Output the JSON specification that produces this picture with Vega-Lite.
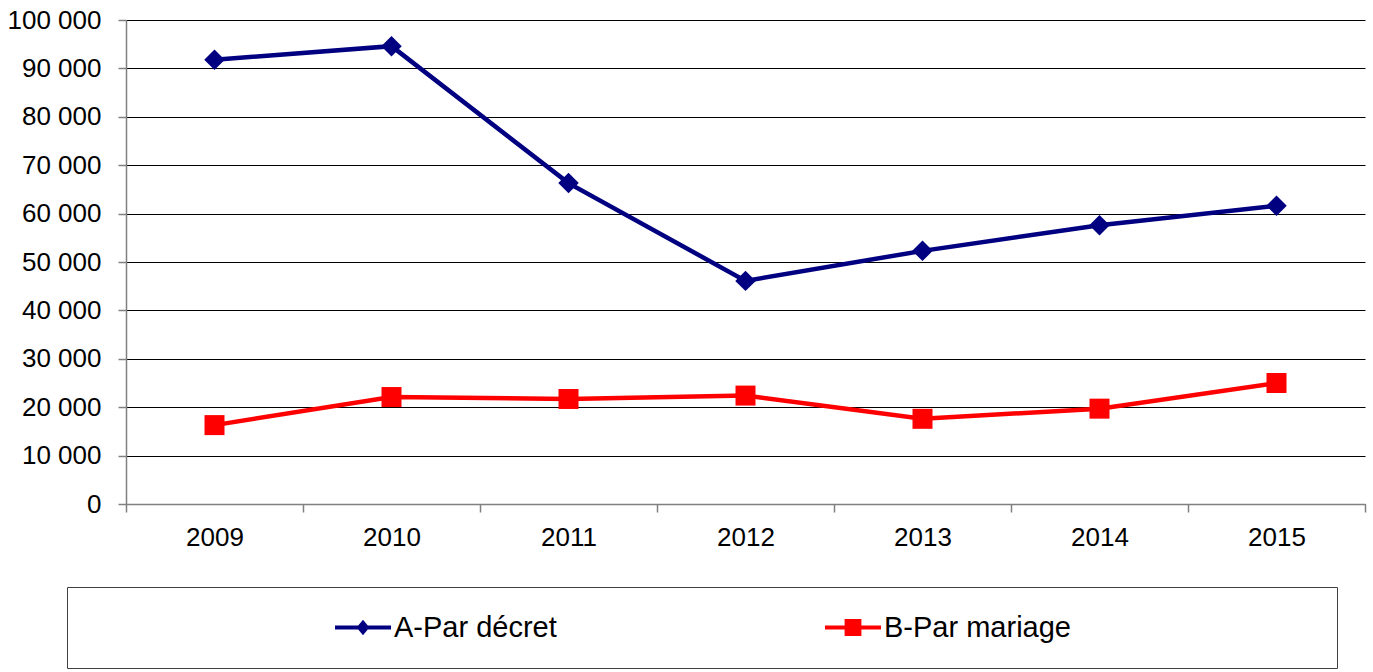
{
  "$schema": "https://vega.github.io/schema/vega-lite/v6.json",
  "width": 1239,
  "height": 484,
  "autosize": {"type": "none"},
  "padding": {"left": 126, "top": 20, "right": 8, "bottom": 168},
  "background": "white",
  "config": {"view": {"stroke": null}, "font": "Liberation Sans"},
  "data": {
    "values": [
      {"year": "2009", "series": "A-Par décret", "value": 91800},
      {"year": "2010", "series": "A-Par décret", "value": 94600},
      {"year": "2011", "series": "A-Par décret", "value": 66300},
      {"year": "2012", "series": "A-Par décret", "value": 46100},
      {"year": "2013", "series": "A-Par décret", "value": 52300},
      {"year": "2014", "series": "A-Par décret", "value": 57600},
      {"year": "2015", "series": "A-Par décret", "value": 61600},
      {"year": "2009", "series": "B-Par mariage", "value": 16300},
      {"year": "2010", "series": "B-Par mariage", "value": 22100},
      {"year": "2011", "series": "B-Par mariage", "value": 21700},
      {"year": "2012", "series": "B-Par mariage", "value": 22400},
      {"year": "2013", "series": "B-Par mariage", "value": 17600},
      {"year": "2014", "series": "B-Par mariage", "value": 19700},
      {"year": "2015", "series": "B-Par mariage", "value": 25000}
    ]
  },
  "encoding": {
    "x": {
      "field": "year", "type": "ordinal",
      "scale": {"type": "band", "paddingInner": 0, "paddingOuter": 0},
      "axis": {
        "title": null, "labelAngle": 0, "grid": false, "tickBand": "extent",
        "domainColor": "#808080", "domainWidth": 1.5, "tickColor": "#808080", "tickWidth": 1.5,
        "tickSize": 8, "labelPadding": 12, "labelFontSize": 26, "labelColor": "#000000"
      }
    },
    "y": {
      "field": "value", "type": "quantitative",
      "scale": {"domain": [0, 100000]},
      "axis": {
        "title": null,
        "values": [0, 10000, 20000, 30000, 40000, 50000, 60000, 70000, 80000, 90000, 100000],
        "labelExpr": "replace(format(datum.value, ','), ',', ' ')",
        "grid": true, "gridColor": "#000000", "gridWidth": 1,
        "domainColor": "#808080", "domainWidth": 1.5, "tickColor": "#808080", "tickWidth": 1.5,
        "tickSize": 8, "labelPadding": 17, "labelFontSize": 26, "labelColor": "#000000"
      }
    },
    "color": {
      "field": "series", "type": "nominal",
      "scale": {"domain": ["A-Par décret", "B-Par mariage"], "range": ["#000080", "#FF0000"]},
      "legend": {
        "orient": "none", "legendX": -59, "legendY": 567,
        "direction": "horizontal", "columns": 2,
        "title": " ", "titleOrient": "right", "titlePadding": 241,
        "padding": 25, "strokeColor": "#404040", "fillColor": "white",
        "symbolSize": 3136, "symbolStrokeWidth": 0, "symbolOffset": 243, "labelOffset": 3,
        "columnPadding": 25, "clipHeight": 31,
        "labelFontSize": 29, "labelColor": "#000000", "labelLimit": 400,
        "encode": {
          "symbols": {
            "update": {
              "shape": [
                {"test": "datum.value === 'A-Par décret'", "value": "M-1,-0.075H1V0.075H-1ZM-0.23,0L0,-0.28L0.23,0L0,0.28Z"},
                {"value": "M-1,-0.075H1V0.075H-1ZM-0.3,-0.3H0.3V0.3H-0.3Z"}
              ],
              "fill": [
                {"test": "datum.value === 'A-Par décret'", "value": "#000080"},
                {"value": "#FF0000"}
              ],
              "stroke": {"value": "transparent"},
              "strokeWidth": {"value": 0},
              "size": {"value": 3136},
              "opacity": {"value": 1}
            }
          }
        }
      }
    }
  },
  "layer": [
    {"mark": {"type": "line", "strokeWidth": 4.5}},
    {
      "mark": {"type": "point", "filled": true, "opacity": 1},
      "encoding": {
        "shape": {"field": "series", "type": "nominal", "scale": {"range": ["diamond", "square"]}, "legend": null},
        "size": {"field": "series", "type": "nominal", "scale": {"range": [420, 400]}, "legend": null}
      }
    }
  ]
}
